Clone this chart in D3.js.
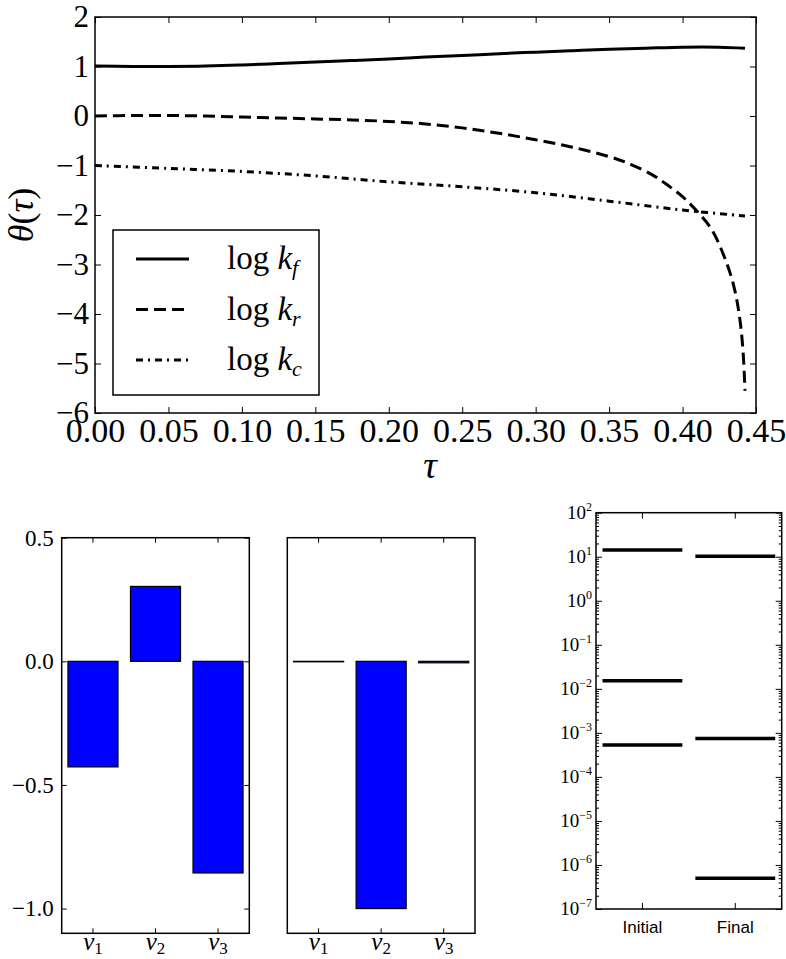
<!DOCTYPE html>
<html>
<head>
<meta charset="utf-8">
<script src="https://cdn.jsdelivr.net/npm/d3@7"></script>
<style>
  body { margin: 0; background: #fff; }
  svg { display: block; }
</style>
</head>
<body>
<div id="chart"></div>
<script>
// top panel: theta(tau) curves
var tauF = [0, 0.025, 0.05, 0.075, 0.1, 0.125, 0.15, 0.175, 0.2, 0.225, 0.25, 0.275, 0.3, 0.325, 0.35, 0.375, 0.4, 0.425, 0.4425];
var logKf = [1.01, 1.0, 1.0, 1.01, 1.03, 1.06, 1.09, 1.12, 1.15, 1.19, 1.22, 1.26, 1.29, 1.32, 1.35, 1.37, 1.39, 1.39, 1.37];
var tauR = [0, 0.025, 0.05, 0.075, 0.1, 0.125, 0.15, 0.175, 0.2, 0.225, 0.25, 0.275, 0.3, 0.325, 0.35, 0.365, 0.38, 0.39, 0.4, 0.41, 0.42, 0.43, 0.435, 0.438, 0.44, 0.4415, 0.4425];
var logKr = [0.0, 0.01, 0.01, 0.0, -0.02, -0.04, -0.06, -0.08, -0.11, -0.16, -0.24, -0.35, -0.48, -0.63, -0.82, -0.98, -1.2, -1.4, -1.63, -1.93, -2.3, -2.97, -3.45, -3.9, -4.35, -4.9, -5.55];
var tauC = [0, 0.05, 0.1, 0.15, 0.2, 0.25, 0.3, 0.35, 0.4, 0.4425];
var logKc = [-1.0, -1.06, -1.12, -1.21, -1.33, -1.43, -1.55, -1.72, -1.9, -2.02];
var tauTicks = [0, 0.05, 0.1, 0.15, 0.2, 0.25, 0.3, 0.35, 0.4, 0.45];
var thetaTicks = [2, 1, 0, -1, -2, -3, -4, -5, -6];

// bottom left: bar panels
var vNames = ["1", "2", "3"];
var vBefore = [-0.427, 0.303, -0.856];
var vAfter = [-0.002, -1.0, -0.006];
var vTicks = [0.5, 0.0, -0.5, -1.0];

// bottom right: log panel
var stages = ["Initial", "Final"];
var initialVals = [14.2, 0.0153, 5.3e-4];
var finalVals = [10.2, 7.4e-4, 4.98e-7];
var logExps = [2, 1, 0, -1, -2, -3, -4, -5, -6, -7];

var SERIF = "'Liberation Serif', 'DejaVu Serif', serif";
var SANS = "'Liberation Sans', Arial, sans-serif";

var W = 786, H = 959;
var svg = d3.select("#chart").append("svg")
    .attr("width", W)
    .attr("height", H);

function frame(g, x0, y0, x1, y1) {
    g.append("rect")
        .attr("x", x0).attr("y", y0)
        .attr("width", x1 - x0).attr("height", y1 - y0)
        .attr("fill", "none")
        .attr("stroke", "#000")
        .attr("stroke-width", 1.5);
}

function styleAxis(g) {
    g.select(".domain").remove();
    g.selectAll(".tick line").attr("stroke", "#000").attr("stroke-width", 1);
}

// ---------------- top chart ----------------
var box = { x0: 95, x1: 756, y0: 17, y1: 413 };
var x = d3.scaleLinear().domain([0, 0.45]).range([box.x0, box.x1]);
var y = d3.scaleLinear().domain([-6, 2]).range([box.y1, box.y0]);

var gTop = svg.append("g");

gTop.append("g")
    .attr("transform", "translate(" + box.x0 + ",0)")
    .attr("font-family", SERIF)
    .call(d3.axisLeft(y).tickValues(thetaTicks).tickFormat(d3.format("d")).tickSize(-6).tickPadding(6))
    .call(styleAxis)
    .selectAll("text").attr("font-family", SERIF).attr("font-size", 31).attr("fill", "#000");
gTop.append("g")
    .attr("transform", "translate(" + box.x1 + ",0)")
    .call(d3.axisRight(y).tickValues(thetaTicks).tickFormat("").tickSize(-6))
    .call(styleAxis);
gTop.append("g")
    .attr("transform", "translate(0," + box.y1 + ")")
    .call(d3.axisBottom(x).tickValues(tauTicks).tickFormat(d3.format(".2f")).tickSize(-6).tickPadding(5))
    .call(styleAxis)
    .selectAll("text").attr("font-family", SERIF).attr("font-size", 34).attr("fill", "#000");
gTop.append("g")
    .attr("transform", "translate(0," + box.y0 + ")")
    .call(d3.axisTop(x).tickValues(tauTicks).tickFormat("").tickSize(-6))
    .call(styleAxis);

var line = d3.line()
    .x(function (d) { return x(d[0]); })
    .y(function (d) { return y(d[1]); })
    .curve(d3.curveCatmullRom.alpha(0.5));

var series = [
    { t: tauF, v: logKf, dash: null, sub: "f" },
    { t: tauR, v: logKr, dash: "12,6", sub: "r" },
    { t: tauC, v: logKc, dash: "7,5,2,5", sub: "c" }
];

series.forEach(function (s) {
    gTop.append("path")
        .datum(d3.zip(s.t, s.v))
        .attr("d", line)
        .attr("fill", "none")
        .attr("stroke", "#000")
        .attr("stroke-width", 3)
        .attr("stroke-dasharray", s.dash);
});

frame(gTop, box.x0, box.y0, box.x1, box.y1);

// legend
var leg = gTop.append("g");
leg.append("rect")
    .attr("x", 113).attr("y", 230).attr("width", 206).attr("height", 165)
    .attr("fill", "#fff").attr("stroke", "#000").attr("stroke-width", 1.5);
series.forEach(function (s, i) {
    var ly = 259 + i * 50.5;
    leg.append("line")
        .attr("x1", 136).attr("x2", 189)
        .attr("y1", ly).attr("y2", ly)
        .attr("stroke", "#000").attr("stroke-width", 3)
        .attr("stroke-dasharray", s.dash);
    var t = leg.append("text")
        .attr("font-family", SERIF)
        .attr("x", 227).attr("y", ly + 10)
        .attr("font-size", 33);
    t.append("tspan").text("log ");
    t.append("tspan").attr("font-style", "italic").text("k");
    t.append("tspan").attr("font-style", "italic").attr("font-size", 22).attr("dy", 6).text(s.sub);
});

// axis titles
svg.append("text")
    .attr("font-family", SERIF)
    .attr("x", 430).attr("y", 478)
    .attr("text-anchor", "middle")
    .attr("font-size", 38)
    .attr("font-style", "italic")
    .text("τ");

var yt = svg.append("text")
    .attr("font-family", SERIF)
    .attr("transform", "translate(33,215) rotate(-90)")
    .attr("text-anchor", "middle")
    .attr("font-size", 36);
yt.append("tspan").attr("font-style", "italic").text("θ");
yt.append("tspan").text("(");
yt.append("tspan").attr("font-style", "italic").text("τ");
yt.append("tspan").text(")");

// ---------------- bar panels ----------------
var barY = d3.scaleLinear().domain([-1.1, 0.5]).range([933.3, 537.7]);

function barPanel(x0, x1, vals, showY) {
    var g = svg.append("g");
    var bx = d3.scaleBand().domain(vNames).range([x0, x1]).paddingInner(0.2).paddingOuter(0.1);

    if (showY) {
        g.append("g")
            .attr("transform", "translate(" + x0 + ",0)")
            .call(d3.axisLeft(barY).tickValues(vTicks).tickFormat(d3.format(".1f")).tickSize(-5).tickPadding(8))
            .call(styleAxis)
            .selectAll("text").attr("font-family", SERIF).attr("font-size", 23).attr("fill", "#000");
        g.append("g")
            .attr("transform", "translate(" + x1 + ",0)")
            .call(d3.axisRight(barY).tickValues(vTicks).tickFormat("").tickSize(-5))
            .call(styleAxis);
    }
    g.append("g")
        .attr("transform", "translate(0,933.3)")
        .call(d3.axisBottom(bx).tickFormat("").tickSize(-5))
        .call(styleAxis);
    g.append("g")
        .attr("transform", "translate(0,537.7)")
        .call(d3.axisTop(bx).tickFormat("").tickSize(-5))
        .call(styleAxis);

    g.selectAll(".bar")
        .data(vals)
        .enter()
        .append("rect")
        .attr("class", "bar")
        .attr("x", function (d, i) { return bx(vNames[i]); })
        .attr("width", bx.bandwidth())
        .attr("y", function (d) { return barY(Math.max(0, d)); })
        .attr("height", function (d) { return Math.abs(barY(d) - barY(0)); })
        .attr("fill", "#0000ff")
        .attr("stroke", "#000")
        .attr("stroke-width", 1.2);

    vNames.forEach(function (n) {
        var t = g.append("text")
            .attr("font-family", SERIF)
            .attr("x", bx(n) + bx.bandwidth() / 2)
            .attr("y", 950)
            .attr("text-anchor", "middle")
            .attr("font-size", 25);
        t.append("tspan").attr("font-style", "italic").text("v");
        t.append("tspan").attr("font-size", 17).attr("dy", 4).text(n);
    });

    frame(g, x0, 537.7, x1, 933.3);
}

barPanel(61.7, 249.3, vBefore, true);
barPanel(287.3, 475, vAfter, false);

// ---------------- log panel ----------------
var lp = { x0: 596, x1: 781.7, y0: 512.7, y1: 909 };
var ly = d3.scaleLog().domain([1e-7, 1e2]).range([lp.y1, lp.y0]);
var lx = d3.scaleBand().domain(stages).range([lp.x0, lp.x1]).paddingInner(0.14).paddingOuter(0.07);
var gLog = svg.append("g");

var majors = logExps.map(function (e) { return Math.pow(10, e); });
var minors = [];
for (var e = -7; e < 2; e++) {
    for (var k = 2; k < 10; k++) minors.push(k * Math.pow(10, e));
}

gLog.append("g")
    .attr("transform", "translate(" + lp.x0 + ",0)")
    .call(d3.axisLeft(ly).tickValues(majors).tickFormat("").tickSize(-6))
    .call(styleAxis);
gLog.append("g")
    .attr("transform", "translate(" + lp.x1 + ",0)")
    .call(d3.axisRight(ly).tickValues(majors).tickFormat("").tickSize(-6))
    .call(styleAxis);
gLog.append("g")
    .attr("transform", "translate(" + lp.x0 + ",0)")
    .call(d3.axisLeft(ly).tickValues(minors).tickFormat("").tickSize(-3))
    .call(styleAxis);
gLog.append("g")
    .attr("transform", "translate(" + lp.x1 + ",0)")
    .call(d3.axisRight(ly).tickValues(minors).tickFormat("").tickSize(-3))
    .call(styleAxis);

var xTickScale = d3.scaleBand().domain(stages).range([lp.x0, lp.x1]);
gLog.append("g")
    .attr("transform", "translate(0," + lp.y1 + ")")
    .call(d3.axisBottom(xTickScale).tickSize(-6).tickPadding(12))
    .call(styleAxis)
    .selectAll("text")
    .attr("font-family", SANS)
    .attr("font-size", 17)
    .attr("fill", "#000");
gLog.append("g")
    .attr("transform", "translate(0," + lp.y0 + ")")
    .call(d3.axisTop(xTickScale).tickFormat("").tickSize(-6))
    .call(styleAxis);

logExps.forEach(function (ex) {
    var t = gLog.append("text")
        .attr("font-family", SERIF)
        .attr("x", 592)
        .attr("y", ly(Math.pow(10, ex)) + 6)
        .attr("text-anchor", "end")
        .attr("font-size", 19);
    t.append("tspan").text("10");
    t.append("tspan").attr("font-size", 12).attr("dy", -8).text(d3.format("d")(ex));
});

[initialVals, finalVals].forEach(function (vals, i) {
    gLog.selectAll(".lvl" + i)
        .data(vals)
        .enter()
        .append("line")
        .attr("x1", lx(stages[i]))
        .attr("x2", lx(stages[i]) + lx.bandwidth())
        .attr("y1", function (d) { return ly(d); })
        .attr("y2", function (d) { return ly(d); })
        .attr("stroke", "#000")
        .attr("stroke-width", 3.5);
});

frame(gLog, lp.x0, lp.y0, lp.x1, lp.y1);
</script>
</body>
</html>
